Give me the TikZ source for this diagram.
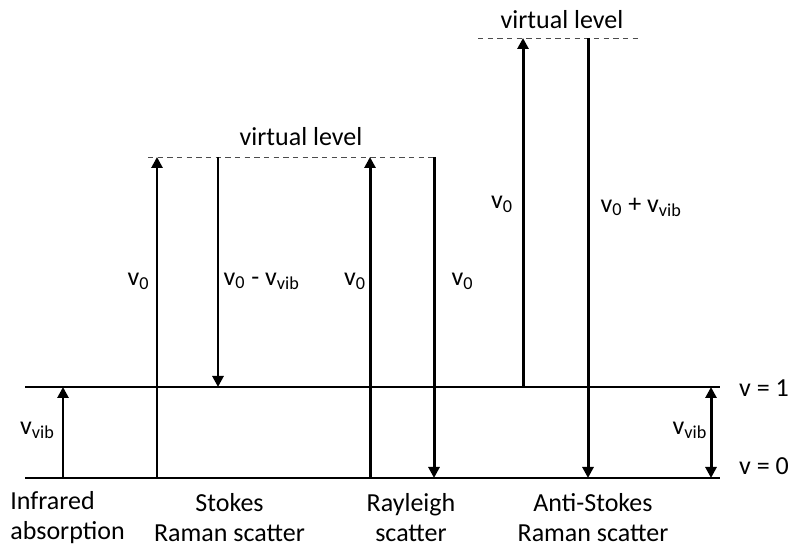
\documentclass[tikz,border=0pt]{standalone}
\usepackage{fontspec}
\setmainfont{Carlito}
\usepackage{tikz}
\usetikzlibrary{arrows.meta}
\usepackage{xcolor}

\begin{document}
\begin{tikzpicture}[>={Triangle[length=2.2mm,width=2.2mm]},font=\fontsize{14.8}{17}\selectfont,
  level/.style={line width=1.1pt},
  virt/.style={dashed,gray!60!black,line width=0.5pt,dash pattern=on 3pt off 2.5pt},
  trans/.style={line width=1.7pt,->},
  lbl/.style={inner sep=1pt}]
\useasboundingbox (0,0) rectangle (15.8,10.92);
% energy levels
\coordinate (g0l) at (0.5,1.36);
\coordinate (g0r) at (14.4,1.36);
\coordinate (g1l) at (0.5,3.18);
\coordinate (g1r) at (14.4,3.18);
\draw[level] (g0l) -- (g0r);
\draw[level] (g1l) -- (g1r);
\node[lbl,anchor=west] (vzero) at (14.74,1.6) {v = 0};
\node[lbl,anchor=west] (vone) at (14.74,3.16) {v = 1};
% virtual levels
\coordinate (va) at (2.96,7.78);
\coordinate (vb) at (8.7,7.78);
\coordinate (vc) at (9.56,10.16);
\coordinate (vd) at (12.76,10.16);
\draw[virt] (va) -- (vb);
\draw[virt] (vc) -- (vd);
\node (virtlow) at (6.02,8.18) {virtual level};
\node (virthigh) at (11.24,10.52) {virtual level};
% infrared absorption
\coordinate (ira) at (1.26,1.36);
\coordinate (irb) at (1.26,3.18);
\draw[trans] (ira) -- (irb);
\node[lbl] (irlbl) at (0.75,2.32) {v\textsubscript{vib}};
% Stokes
\coordinate (sta) at (3.14,1.36);
\coordinate (stb) at (3.14,7.78);
\coordinate (stc) at (4.36,7.78);
\coordinate (std) at (4.36,3.18);
\draw[trans] (sta) -- (stb);
\draw[trans] (stc) -- (std);
\node[lbl] (stup) at (2.77,5.3) {v\textsubscript{0}};
\node[lbl,anchor=west] (stdown) at (4.43,5.3) {v\textsubscript{0} - v\textsubscript{vib}};
% Rayleigh
\coordinate (rya) at (7.4,1.36);
\coordinate (ryb) at (7.4,7.78);
\coordinate (ryc) at (8.68,7.78);
\coordinate (ryd) at (8.68,1.36);
\draw[trans] (rya) -- (ryb);
\draw[trans] (ryc) -- (ryd);
\node[lbl] (ryup) at (7.1,5.3) {v\textsubscript{0}};
\node[lbl] (rydown) at (9.25,5.3) {v\textsubscript{0}};
% anti-Stokes
\coordinate (asa) at (10.46,3.18);
\coordinate (asb) at (10.46,10.16);
\coordinate (asc) at (11.76,10.16);
\coordinate (asd) at (11.76,1.36);
\draw[trans] (asa) -- (asb);
\draw[trans] (asc) -- (asd);
\node[lbl] (asup) at (10.04,6.84) {v\textsubscript{0}};
\node[lbl,anchor=west] (asdown) at (11.97,6.78) {v\textsubscript{0} + v\textsubscript{vib}};
% vibrational gap
\coordinate (vga) at (14.22,1.36);
\coordinate (vgb) at (14.22,3.18);
\draw[trans,<->] (vga) -- (vgb);
\node[lbl] (vglbl) at (13.8,2.32) {v\textsubscript{vib}};
% process names
\node[align=left,anchor=west,inner sep=0pt] (irname) at (0.2,0.56) {Infrared\\absorption};
\node[align=center] (stname) at (4.59,0.56) {Stokes\\Raman scatter};
\node[align=center] (ryname) at (8.22,0.56) {Rayleigh\\scatter};
\node[align=center] (asname) at (11.86,0.56) {Anti-Stokes\\Raman scatter};
\end{tikzpicture}
\end{document}
